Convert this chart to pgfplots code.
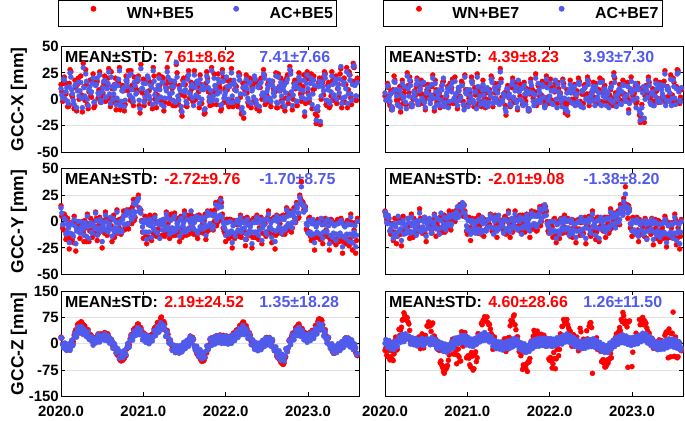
\documentclass[border=0pt]{standalone}
\usepackage{fontspec}
\setmainfont{Liberation Sans}
\usepackage{pgfplots}
\usepackage{pgfplotstable}
\pgfplotsset{compat=1.18}
\definecolor{wnred}{RGB}{255,0,0}
\definecolor{acblue}{RGB}{80,90,235}
\definecolor{gridgray}{RGB}{225,225,225}

\pgfplotstableread{
t x5r x5b x7r x7b y5r y5b y7r y7b z5r z5b z7r z7b
2020.00 14 10 3 6 15 13 10 9 19 16 -19 1
2020.02 -2 1 3 0 -6 -3 2 -1 -1 -2 -32 5
2020.04 21 18 11 13 7 3 2 6 -3 1 -19 -4
2020.06 5 7 -6 -2 -17 -12 -9 -9 -17 -12 -46 -2
2020.08 -7 -2 -10 -7 3 -2 -9 -3 -6 -3 -20 2
2020.10 15 12 9 7 -26 -20 -18 -16 -12 -15 -48 -7
2020.12 26 21 18 16 -1 -2 3 -2 0 -3 9 -1
2020.14 2 5 -1 3 -16 -12 -21 -14 -1 -6 -18 -5
2020.16 -9 -5 -4 -6 5 2 2 5 25 18 15 9
2020.18 11 14 12 9 -28 -21 -9 -9 40 25 24 13
2020.20 14 8 1 4 -5 -7 -23 -18 54 42 47 10
2020.22 0 3 -4 1 -5 0 5 1 48 33 70 21
2020.24 22 16 10 12 -4 -10 -9 -5 62 43 81 18
2020.26 -12 -8 -5 -9 0 -1 -9 -11 56 35 75 13
2020.28 12 11 13 10 -19 -13 3 3 53 41 62 17
2020.30 28 24 21 18 -6 -4 -16 -9 36 30 38 16
2020.32 -5 0 -7 -4 7 5 7 4 39 30 16 8
2020.34 7 9 0 2 -19 -16 -15 -10 23 13 2 9
2020.36 3 6 8 5 3 -1 -1 -2 26 17 14 2
2020.38 19 15 12 14 -15 -11 -11 -13 8 6 3 8
2020.40 -8 -3 -3 -5 -11 -4 -4 1 16 13 7 2
2020.42 16 13 5 8 9 8 12 8 8 5 17 7
2020.44 17 20 18 15 -18 -13 -9 -10 22 15 -3 6
2020.46 9 4 -4 -1 -3 -6 -9 -5 19 11 9 4
2020.48 -3 -1 -1 -3 -4 2 4 4 28 22 19 11
2020.50 11 7 3 6 -25 -19 -19 -14 25 17 16 2
2020.52 15 17 14 11 1 -1 2 0 20 11 49 9
2020.54 -2 2 3 0 9 6 0 3 30 22 57 11
2020.56 13 10 0 4 -13 -9 -8 -11 19 15 35 6
2020.58 29 26 23 20 1 -4 -6 -2 21 18 59 8
2020.60 -7 -4 -11 -8 1 4 7 6 6 1 22 0
2020.62 10 12 9 7 -19 -14 -14 -7 8 4 12 5
2020.64 1 5 -2 1 6 2 2 2 -10 -12 -16 -5
2020.66 20 14 6 9 -10 -6 -11 -12 -16 -8 -19 -3
2020.68 -2 1 2 -1 11 9 2 8 -30 -23 -49 -5
2020.70 16 19 16 14 -6 -10 -10 -5 -29 -22 -68 -13
2020.72 -10 -6 -3 -7 -7 0 6 4 -47 -38 -84 -10
2020.74 12 8 0 3 -9 -10 -5 -8 -37 -26 -64 -16
2020.76 8 11 12 10 10 6 -7 -4 -44 -33 -62 -11
2020.78 -5 -1 -4 -2 -7 -3 10 6 -34 -26 -32 -7
2020.80 18 16 9 12 11 10 -8 -4 -15 -11 -3 -9
2020.82 27 22 19 16 -7 -2 9 6 -11 -10 13 2
2020.84 -1 3 -2 1 11 8 2 5 14 9 -7 -1
2020.86 13 9 3 5 -2 2 5 3 26 24 -18 10
2020.88 -6 -2 -9 -6 21 17 11 14 39 20 -32 7
2020.90 11 13 11 8 4 9 9 6 38 32 -37 15
2020.92 9 6 -1 2 21 19 16 14 49 31 -49 12
2020.94 22 18 15 13 25 22 13 18 56 44 -4 17
2020.96 -13 -9 -6 -10 9 12 16 15 38 26 5 9
2020.98 7 10 9 6 1 0 5 4 38 27 22 11
2021.00 19 15 7 9 -16 -10 -12 -8 24 17 -37 5
2021.02 -1 2 1 -2 5 2 4 1 25 18 -41 8
2021.04 5 7 0 3 -21 -17 -18 -12 15 7 -66 1
2021.06 18 20 17 15 -1 -3 3 1 22 18 -35 7
2021.08 -4 0 -7 -4 6 2 -10 -6 9 7 -71 3
2021.10 15 11 4 7 -18 -15 -8 -11 26 19 -23 10
2021.12 30 27 24 21 -11 -6 -3 0 29 19 -40 6
2021.14 0 4 -3 0 6 4 6 2 46 35 21 14
2021.16 -8 -3 -2 -5 -14 -10 -9 -11 50 35 19 9
2021.18 10 13 11 9 -7 0 4 4 61 45 54 18
2021.20 13 9 7 4 -15 -16 -14 -9 60 42 68 15
2021.22 -1 -5 -8 -6 0 -3 1 -1 76 57 66 24
2021.24 20 16 9 11 -2 2 -1 -6 57 42 76 16
2021.26 -3 1 0 -3 -14 -8 -2 2 56 43 54 19
2021.28 11 8 6 3 9 7 7 6 35 23 42 9
2021.30 18 21 20 16 -2 -5 -9 -6 27 19 24 9
2021.32 1 5 -3 1 -16 -12 -9 -12 3 1 10 1
2021.34 15 12 6 8 7 2 6 4 -3 -1 -10 2
2021.36 -6 -1 -1 -3 -13 -10 -15 -9 -19 -17 -3 -7
2021.38 14 17 15 12 8 5 2 6 -14 -11 -12 -3
2021.40 33 35 29 26 -10 -6 -3 -5 -23 -18 -5 -9
2021.42 -1 3 2 -1 3 -1 1 0 -16 -12 4 -5
2021.44 13 10 3 5 -19 -14 -9 -11 -26 -20 -9 -11
2021.46 -11 -7 -6 -9 5 3 5 2 -13 -10 -15 -5
2021.48 18 14 8 10 -8 -4 -11 -8 -14 -17 4 -7
2021.50 3 7 5 2 10 7 10 8 -1 -5 8 1
2021.52 -6 -2 -7 -4 -13 -10 -15 -10 2 2 51 1
2021.54 22 19 11 14 6 2 -1 3 0 -2 62 -1
2021.56 1 6 0 2 -6 -7 -3 -4 14 13 78 6
2021.58 16 12 11 8 6 10 10 7 13 9 54 2
2021.60 -2 1 -1 -3 -10 -5 -6 -6 18 14 18 6
2021.62 27 23 16 18 1 -1 -4 1 -6 -9 -1 -5
2021.64 0 4 3 0 2 5 6 4 -21 -11 -17 -5
2021.66 12 15 13 10 -16 -11 -11 -12 -30 -27 -25 -11
2021.68 -8 -4 -3 -6 6 2 -2 3 -29 -23 -60 -8
2021.70 14 9 2 5 -6 -7 -10 -6 -46 -34 -64 -14
2021.72 10 13 10 8 -2 4 7 6 -44 -31 -57 -11
2021.74 -14 -10 -9 -11 1 -2 2 -2 -46 -39 -51 -17
2021.76 15 11 5 7 -17 -13 -15 -9 -23 -21 -42 -7
2021.78 20 17 11 13 10 9 10 8 -17 -8 8 -1
2021.80 -2 2 1 -2 -8 -4 -6 -3 -3 -7 21 -3
2021.82 5 8 7 4 10 7 9 6 16 9 32 6
2021.84 -5 -1 -6 -3 -6 -7 -9 -5 9 3 31 2
2021.86 24 20 13 15 0 5 6 5 19 15 21 6
2021.88 7 10 3 6 18 16 14 12 11 8 27 1
2021.90 9 5 4 1 -1 3 0 3 21 17 27 8
2021.92 14 16 15 12 19 15 15 12 14 10 21 3
2021.94 -11 -6 -6 -8 22 20 12 16 24 18 15 8
2021.96 28 25 22 19 7 4 10 6 13 7 -7 1
2021.98 -3 1 2 -1 -9 -5 -9 -4 20 14 11 6
2022.00 11 7 1 3 -19 -13 -10 -11 13 6 -47 1
2022.02 9 12 11 8 2 -1 -3 0 20 13 -49 8
2022.04 -7 -3 -2 -5 -16 -12 -15 -10 18 15 -57 5
2022.06 18 14 7 9 2 0 3 0 11 7 -42 2
2022.08 -1 3 -3 0 -25 -20 -20 -16 23 12 -43 3
2022.10 15 18 16 14 1 -3 0 -2 31 23 -14 10
2022.12 13 9 2 5 -12 -14 -16 -12 25 16 -16 6
2022.14 -4 0 1 -2 -3 1 3 2 39 28 25 14
2022.16 25 22 19 17 -14 -9 -11 -8 38 27 50 11
2022.18 2 5 -3 1 6 4 6 3 53 41 63 16
2022.20 -12 -8 -6 -9 -11 -7 -10 -6 57 35 66 20
2022.22 -18 -13 -15 -12 2 -1 3 1 61 46 54 18
2022.24 16 13 7 9 -23 -17 -13 -13 43 33 38 11
2022.26 6 10 9 6 4 2 -1 2 42 32 12 15
2022.28 -6 -2 -1 -4 -11 -12 -15 -11 27 16 16 5
2022.30 19 16 14 12 -10 -5 1 -3 24 17 3 7
2022.32 12 8 2 4 -25 -21 -20 -15 4 1 13 1
2022.34 -2 2 -5 -2 3 0 0 -1 0 1 -8 1
2022.36 16 19 17 14 -15 -10 -7 -9 -11 -11 1 -5
2022.38 -9 -5 -4 -7 6 4 -1 4 -4 -5 34 -1
2022.40 15 11 5 7 -17 -13 -12 -13 -13 -11 -13 -6
2022.42 11 15 13 10 3 -1 2 -1 -5 -4 11 0
2022.44 0 4 3 0 -21 -18 -21 -16 -9 -9 -8 -1
2022.46 28 24 21 18 0 -3 -3 1 5 4 14 3
2022.48 -5 -1 -6 -3 -2 2 5 3 2 -2 50 0
2022.50 4 7 6 3 -10 -12 -14 -11 18 11 60 6
2022.52 17 13 7 9 10 7 10 7 8 4 -84 0
2022.54 -3 1 2 -1 -10 -5 -4 -5 15 11 1 6
2022.56 14 17 15 12 -20 -15 -17 -13 6 3 9 0
2022.58 10 6 0 2 3 1 4 1 -9 -11 -16 -5
2022.60 7 10 9 6 -26 -19 -19 -16 -13 -10 1 -4
2022.62 -8 -3 -2 -5 6 5 0 4 -35 -27 -22 -12
2022.64 24 21 18 16 -11 -7 -5 -7 -32 -24 -48 -8
2022.66 8 12 11 8 -2 1 3 1 -45 -36 -55 -16
2022.68 -1 3 -2 1 -8 -11 -15 -10 -53 -32 -66 -12
2022.70 13 9 3 5 6 4 4 3 -59 -42 -46 -13
2022.72 -11 -7 -5 -8 -12 -8 -11 -7 -42 -36 -45 -15
2022.74 20 16 9 11 13 11 12 9 -18 -16 -27 -5
2022.76 -4 0 1 -2 -7 -2 -6 -3 -12 -11 1 -4
2022.78 31 28 25 22 10 8 8 7 13 11 -3 4
2022.80 4 7 6 3 -10 -6 -4 -6 21 10 18 7
2022.82 0 4 -3 0 9 6 2 6 31 23 6 10
2022.84 18 14 7 9 3 -1 2 -1 31 22 35 8
2022.86 -6 -2 -1 -4 18 16 16 13 47 35 37 16
2022.88 15 11 5 7 3 8 9 8 54 35 63 12
2022.90 15 18 16 13 25 23 22 19 49 39 80 16
2022.92 -2 2 1 -2 38 33 33 26 35 25 65 10
2022.94 12 8 2 4 18 15 16 14 37 27 48 13
2022.96 -16 -12 -10 -13 11 15 15 13 24 15 62 4
2022.98 19 15 8 10 -7 -2 -6 -2 27 20 15 9
2023.00 6 10 9 6 -9 -11 -14 -9 20 13 -65 4
2023.02 -3 1 2 -1 4 0 1 0 31 24 4 11
2023.04 24 20 13 15 -18 -13 -9 -11 25 19 15 7
2023.06 9 5 -2 1 -2 2 4 2 35 27 10 12
2023.08 10 13 11 9 -27 -20 -19 -14 38 24 19 9
2023.10 -23 -20 -22 -20 -3 -5 0 -3 53 39 54 16
2023.12 -11 -7 -5 -8 2 -1 -3 0 63 39 67 15
2023.14 20 17 10 12 -16 -12 -10 -12 71 55 54 23
2023.16 0 3 3 0 0 3 3 1 69 44 62 16
2023.18 16 12 6 8 -21 -16 -16 -17 54 44 45 19
2023.20 26 23 21 18 1 -3 -6 -2 35 27 25 10
2023.22 -5 -1 0 -3 -8 -10 -6 -9 23 13 1 5
2023.24 13 9 3 5 -2 2 3 2 19 13 16 6
2023.26 -8 -4 -3 -6 -27 -21 -22 -17 -1 -3 -13 -1
2023.28 3 7 6 3 2 0 2 0 -10 -2 -8 0
2023.30 18 14 8 10 -19 -15 -16 -13 -23 -19 -4 -8
2023.32 0 4 -3 0 -1 -4 1 -2 -27 -12 -14 -4
2023.34 22 19 16 14 -22 -18 -19 -15 -23 -19 -5 -8
2023.36 10 14 12 9 2 -2 -1 -2 -12 -9 9 -1
2023.38 2 6 0 2 -19 -14 -16 -12 -17 -17 -5 -7
2023.40 29 31 27 24 3 1 5 2 -3 -5 24 0
2023.42 -3 1 2 -1 -30 -24 -24 -20 2 2 34 3
2023.44 20 16 9 11 -3 -4 -2 -4 1 -2 -40 -1
2023.46 14 10 4 6 -21 -16 -12 -13 17 13 31 7
2023.48 -8 -4 -3 -6 1 -2 -6 -2 6 4 29 1
2023.50 26 23 20 18 -23 -19 -14 -16 10 9 90 5
2023.52 1 5 -2 1 7 4 7 4 -1 -4 -36 -2
2023.54 17 14 12 10 -27 -20 -22 -18 3 1 -4 3
2023.56 30 32 27 25 -8 -10 -6 -9 -15 -13 -37 -6
2023.58 -1 3 -4 -1 -30 -24 -26 -21 -25 -12 2 -3
2023.60 20 16 9 11 3 0 2 0 -34 -28 -20 -12
}\dataA

\pgfplotstableread{
t x5r x5b x7r x7b y5r y5b y7r y7b z5r z5b z7r z7b
2020.01 7 4 3 -1 5 8 7 5 16 17 -12 12
2020.03 15 19 15 12 -8 -3 -1 -2 -6 -12 -37 -10
2020.05 5 0 -3 2 5 2 -1 3 -2 2 -16 9
2020.07 15 11 7 5 -14 -10 -12 -7 -15 -19 -37 -15
2020.09 -7 -4 -8 -10 -2 -6 -2 -4 -3 -1 -45 3
2020.11 28 25 22 17 -16 -11 -10 -12 -14 -19 -29 -16
2020.13 4 9 7 9 -2 -3 -11 -5 6 10 19 8
2020.15 -5 -1 -1 -5 -20 -14 -14 -10 6 -2 -16 -8
2020.17 18 13 5 8 -2 -4 2 -1 34 30 41 19
2020.19 -11 -8 -12 -8 -6 -9 -12 -7 36 19 39 4
2020.21 20 16 18 15 -4 0 2 -2 57 48 67 27
2020.23 2 8 6 2 -16 -11 -11 -12 49 30 88 6
2020.25 4 1 -5 -3 -1 -5 -7 -3 62 49 68 28
2020.27 34 30 25 22 -10 -7 -5 -8 47 26 74 19
2020.29 -1 3 6 3 1 -1 -4 -1 50 38 56 22
2020.31 14 17 17 13 -19 -14 -15 -11 32 20 7 -1
2020.33 -9 -6 -5 -7 -2 -5 -2 -4 40 34 13 17
2020.35 18 12 3 7 -9 -3 3 0 19 11 7 -3
2020.37 2 7 4 0 -8 -10 -12 -7 23 20 10 15
2020.39 24 20 20 18 0 -3 -1 -3 5 -4 -1 -6
2020.41 -6 -2 -5 -2 -11 -6 -7 -8 17 15 19 12
2020.43 16 14 14 10 3 1 3 1 9 3 -14 -3
2020.45 1 6 5 1 -12 -8 -11 -6 28 26 28 16
2020.47 26 23 14 16 4 0 3 0 18 5 -12 -6
2020.49 2 -3 -10 -8 -8 -9 -12 -8 27 21 24 10
2020.51 6 11 9 6 -9 -4 1 -2 18 12 51 14
2020.53 22 18 8 11 -11 -7 -5 -6 32 28 62 12
2020.55 -1 2 0 -4 3 0 -3 1 22 9 51 -3
2020.57 20 15 12 14 -8 -10 -11 -7 28 23 55 18
2020.59 1 5 4 1 -6 -2 2 -1 8 2 21 -2
2020.61 26 21 18 15 -4 -7 -3 -5 13 13 4 12
2020.63 -3 0 -3 -5 4 3 -2 3 -7 -13 -11 -14
2020.65 14 10 2 5 -15 -10 -5 -7 -4 0 -8 6
2020.67 -10 -5 -8 -6 1 -1 4 1 -27 -26 -54 -14
2020.69 16 13 13 9 -11 -7 -10 -6 -33 -14 -61 2
2020.71 30 27 17 20 2 -2 0 -2 -44 -41 -80 -22
2020.73 -6 -2 -1 -3 -12 -8 -10 -6 -49 -23 -75 -1
2020.75 13 8 3 6 4 2 4 3 -47 -40 -69 -24
2020.77 -11 -7 -6 -8 -8 -3 1 -2 -41 -19 -47 -3
2020.79 22 18 15 12 8 6 -1 4 -34 -31 -14 -18
2020.81 8 12 11 7 -6 -2 0 -2 -5 1 -5 6
2020.83 9 4 -4 -1 11 8 9 7 -3 -9 -29 -12
2020.85 27 24 21 17 -1 4 0 4 25 22 -30 16
2020.87 -3 1 1 -2 14 10 11 9 23 10 -57 -1
2020.89 21 16 8 11 1 5 7 4 43 36 -15 18
2020.91 9 5 3 0 19 16 16 14 37 24 -49 1
2020.93 17 20 17 13 22 20 16 13 56 46 34 24
2020.95 -6 -1 -2 -5 13 10 5 9 43 26 -7 4
2020.97 33 29 23 21 11 8 10 8 46 39 32 24
2020.99 6 10 9 5 -10 -5 -9 -4 26 11 -40 -3
2021.01 -6 -3 -5 -7 1 -1 3 1 30 27 -34 18
2021.03 19 15 6 9 -14 -10 -6 -8 13 4 -60 -6
2021.05 18 22 21 17 2 -1 -6 -1 24 23 -25 13
2021.07 8 3 -3 -1 -15 -10 -9 -10 8 0 -75 -8
2021.09 16 13 11 7 -2 -4 0 -2 24 20 -30 15
2021.11 -9 -5 -6 -9 3 0 3 0 19 8 -51 -2
2021.13 22 17 9 12 -13 -8 -11 -7 42 37 29 22
2021.15 5 9 6 3 0 -2 -4 1 40 23 15 5
2021.17 4 0 -7 -4 -10 -11 -12 -8 60 48 58 27
2021.19 23 20 18 14 0 -3 1 -2 54 33 66 9
2021.21 -1 2 1 -2 -3 1 2 0 73 60 77 32
2021.23 21 16 6 9 -13 -8 -7 -9 62 41 63 10
2021.25 -11 -7 -3 -7 2 -1 -4 1 63 52 60 25
2021.27 14 11 9 7 -10 -6 -3 -5 38 21 55 5
2021.29 30 26 22 19 5 3 6 3 38 33 29 20
2021.31 -4 1 -7 -4 -12 -8 -10 -6 10 2 -16 -7
2021.33 15 18 15 11 4 1 2 0 7 11 19 10
2021.35 10 6 -1 1 -11 -6 -3 -6 -15 -19 -11 -14
2021.37 17 12 9 6 5 3 -1 2 -10 -4 -4 6
2021.39 -6 -3 -2 -5 -13 -9 -5 -7 -25 -25 -10 -15
2021.41 25 21 19 16 1 -2 -6 -1 -14 -6 0 5
2021.43 -5 -1 1 -3 -10 -6 -2 -4 -26 -26 -14 -18
2021.45 4 8 6 3 4 2 4 2 -12 -5 14 4
2021.47 -16 -12 -15 -12 -15 -10 -12 -7 -20 -23 -22 -14
2021.49 20 16 13 10 2 -1 2 0 -1 4 16 8
2021.51 14 9 1 5 -11 -7 -2 -5 -10 -14 18 -14
2021.53 -7 -4 -4 -6 4 2 -3 1 8 10 66 10
2021.55 27 23 20 17 -12 -7 -10 -6 1 -7 64 -9
2021.57 7 4 -3 0 2 -1 2 0 22 21 82 15
2021.59 10 14 16 12 5 3 5 2 10 2 40 -4
2021.61 -2 -6 -10 -8 -12 -7 -6 -8 12 13 20 12
2021.63 15 11 10 7 3 1 -4 0 -14 -18 -22 -15
2021.65 13 17 14 10 -13 -9 -10 -6 -28 -7 -34 3
2021.67 7 2 -5 -2 6 4 6 3 -36 -35 -73 -20
2021.69 23 19 16 13 -10 -5 -2 -4 -42 -17 -66 0
2021.71 -4 0 -2 -5 3 1 -3 1 -50 -43 -70 -25
2021.73 13 9 9 5 -11 -7 -3 -6 -49 -25 -79 -5
2021.75 -13 -9 -11 -9 7 4 5 3 -40 -38 -52 -22
2021.77 26 22 19 16 -10 -5 -8 -4 -26 -6 1 5
2021.79 7 11 9 6 8 6 7 5 -11 -16 -7 -14
2021.81 -6 -2 -2 -6 -6 -2 -7 -2 12 14 38 11
2021.83 30 27 24 20 9 6 7 5 4 -5 21 -8
2021.85 7 3 -4 -1 -8 -4 -8 -3 18 18 36 14
2021.87 9 13 12 9 11 7 9 7 8 -1 17 -7
2021.89 -5 -1 1 -3 -4 1 -4 0 23 23 23 16
2021.91 24 19 17 14 16 13 13 11 13 3 13 -5
2021.93 11 7 -1 2 1 6 8 5 25 24 24 16
2021.95 -9 -5 -4 -6 18 14 14 12 12 1 0 -7
2021.97 21 17 15 11 -6 -1 0 -2 24 21 8 15
2021.99 9 4 -4 -1 -11 -7 -11 -6 10 1 -43 -6
2022.01 18 21 19 15 2 -1 -4 0 22 22 -39 15
2022.03 -4 0 -1 -4 -14 -10 -5 -8 8 -1 -69 -8
2022.05 16 12 11 8 2 0 2 0 21 19 -25 13
2022.07 29 25 15 18 -14 -9 -13 -9 12 1 -71 -5
2022.09 -7 -3 -4 -8 -1 -4 -1 -3 29 26 -16 17
2022.11 9 14 10 7 -16 -11 -13 -9 21 9 -34 -1
2022.13 12 8 6 3 1 -1 2 -1 39 35 28 19
2022.15 -7 -2 -5 -7 -13 -8 -10 -6 32 18 49 -1
2022.17 23 18 15 12 -1 -3 -5 -1 51 43 69 24
2022.19 -14 -9 -13 -10 -15 -10 -6 -8 44 26 60 5
2022.21 15 11 9 6 3 0 2 0 62 52 69 28
2022.23 9 5 -3 0 -10 -6 -11 -6 45 26 45 5
2022.25 23 19 18 14 -17 -12 -14 -10 51 42 36 23
2022.27 -3 1 0 -3 -1 -3 2 -1 29 15 -7 -1
2022.29 20 15 6 9 -13 -9 -6 -8 31 29 26 18
2022.31 -8 -4 -2 -6 1 -2 -7 -2 6 -3 -3 -8
2022.33 14 10 8 5 -15 -10 -7 -9 9 11 19 12
2022.35 18 22 20 16 1 -1 2 0 -11 -16 -20 -12
2022.37 -5 -1 -2 -5 -15 -11 -13 -8 -1 3 44 7
2022.39 17 12 5 8 2 -1 2 0 -14 -20 -13 -14
2022.41 -11 -7 -4 -8 -6 -8 -11 -7 -3 2 13 7
2022.43 20 16 14 11 4 2 4 1 -13 -17 -9 -13
2022.45 2 6 5 1 -11 -6 -4 -6 6 10 37 11
2022.47 23 20 18 14 0 -3 -5 -1 -1 -8 -5 -9
2022.49 -3 2 1 -2 -14 -10 -12 -8 17 17 59 12
2022.51 14 10 2 5 4 2 4 2 6 -3 46 -8
2022.53 14 18 16 12 -11 -6 -9 -4 18 17 11 14
2022.55 -7 -2 -3 -6 2 -1 2 -1 2 -7 -4 -10
2022.57 17 13 10 8 -12 -8 -10 -6 8 12 17 10
2022.59 8 3 -4 -1 4 2 4 1 -16 -20 -11 -14
2022.61 25 22 20 16 -13 -9 -5 -7 -17 -9 -5 4
2022.63 -8 -4 -3 -6 3 0 -4 0 -39 -38 -51 -21
2022.65 12 8 6 3 -10 -5 -9 -4 -44 -20 -45 -2
2022.67 20 16 13 10 5 3 4 2 -53 -47 -66 -25
2022.69 -7 -3 -2 -6 -12 -7 -4 -6 -57 -30 -62 -6
2022.71 17 13 4 7 5 2 -2 2 -55 -49 -55 -25
2022.73 1 6 4 0 -9 -5 -8 -4 -37 -14 -42 2
2022.75 23 19 15 12 8 5 7 4 -21 -23 -40 -15
2022.77 5 1 -6 -3 -8 -4 0 -2 8 10 4 10
2022.79 27 24 20 16 8 6 0 4 6 -3 -4 -8
2022.81 -10 -6 -4 -7 -6 -1 2 -1 29 26 28 18
2022.83 15 11 2 5 13 10 10 8 23 11 6 -2
2022.85 10 15 14 10 -1 3 -3 2 45 39 46 22
2022.87 -6 -2 -2 -5 16 13 13 10 40 23 69 3
2022.89 25 21 18 14 4 8 8 6 56 47 89 25
2022.91 5 9 5 2 22 19 17 15 36 21 57 2
2022.93 6 2 1 -2 19 16 14 12 43 37 62 22
2022.95 23 18 16 12 11 9 3 8 25 11 -67 -2
2022.97 -4 0 -1 -4 14 11 12 10 31 27 65 17
2022.99 26 23 21 17 -9 -4 -7 -3 16 4 2 -5
2023.01 -1 4 3 0 3 1 4 1 30 28 -24 18
2023.03 19 15 6 9 -14 -10 -12 -8 22 9 7 -2
2023.05 -9 -5 -4 -8 1 -2 1 -1 38 33 30 21
2023.07 22 18 15 12 -16 -12 -8 -10 30 15 7 0
2023.09 -14 -9 -15 -11 0 -2 2 -1 52 44 69 24
2023.11 -16 -10 -18 -14 -15 -10 -12 -8 48 28 57 6
2023.13 16 12 9 6 1 -1 -5 -1 70 57 75 30
2023.15 -24 -21 -22 -18 -17 -12 -14 -10 61 39 66 9
2023.17 20 16 13 10 0 -3 0 -3 66 55 58 28
2023.19 4 8 6 2 -14 -10 -7 -9 39 22 36 2
2023.21 24 20 16 13 3 0 -4 0 40 34 30 21
2023.23 -6 -1 -2 -5 -14 -9 -12 -7 14 2 0 -5
2023.25 16 12 10 7 -2 -4 1 -2 17 18 9 14
2023.27 -6 -2 -2 -6 -17 -13 -8 -10 -7 -13 -6 -11
2023.29 26 22 18 15 1 -2 -6 -2 -18 0 1 6
2023.31 -1 3 1 -2 -16 -11 -13 -9 -27 -27 -15 -17
2023.33 21 17 15 11 -1 -3 0 -3 -26 -7 11 5
2023.35 -4 0 0 -3 -17 -12 -8 -10 -23 -25 -12 -16
2023.37 14 10 2 5 1 -2 -6 -2 -7 0 -1 6
2023.39 24 19 17 13 -16 -11 -14 -10 -16 -19 -12 -15
2023.41 -8 -4 -3 -6 1 -1 2 -1 1 6 30 9
2023.43 18 14 12 9 -19 -14 -16 -12 -5 -11 11 -11
2023.45 -3 2 2 -2 -2 -5 -1 -3 14 16 42 14
2023.47 30 26 23 19 -16 -12 -15 -10 5 -3 -37 -7
2023.49 9 5 4 1 0 -3 -1 -3 16 16 30 13
2023.51 23 18 16 12 -17 -12 -15 -11 0 -9 -36 -10
2023.53 -5 -1 -2 -5 -1 -3 2 -1 8 11 19 12
2023.55 34 31 28 24 -20 -14 -16 -11 -13 -17 -40 -13
2023.57 17 13 10 7 -1 -4 -1 -3 -9 -1 1 6
2023.59 -1 3 2 -2 -18 -13 -14 -10 -31 -31 -17 -18
}\dataB

\pgfplotsset{
  panel/.style={
    scale only axis, width=298bp, height=105.5bp,
    xmin=2020, xmax=2023.62,
    xtick={2020,2021,2022,2023}, xticklabels={},
    tick align=inside, major tick length=4bp,
    ymajorgrids, grid style={gridgray, line width=0.8bp},
    axis line style={black, line width=0.9bp},
    tick style={black, line width=0.9bp},
    tick label style={font=\fontsize{15}{18}\selectfont\bfseries},
    yticklabel style={inner xsep=2bp},
    xticklabel style={yshift=-6bp},
    every axis y label/.style={at={(axis description cs:-0.141,0.5)}, rotate=90, anchor=center, font=\fontsize{17.5}{21}\selectfont\bfseries},
    legend image code/.code={\path (0bp,0bp) (64bp,12bp);
      \draw[mark repeat=2,mark phase=2,##1] plot coordinates {(0bp,5bp) (32bp,5bp) (64bp,5bp)};},
  },
  small/.style={ymin=-50, ymax=50, ytick={-50,-25,0,25,50}},
  big/.style={ymin=-150, ymax=150, ytick={-150,-75,0,75,150}},
  wn/.style={only marks, mark=*, mark size=2.5bp, color=wnred},
  ac/.style={only marks, mark=*, mark size=2.5bp, color=acblue},
  leg/.style={legend columns=2,
    legend style={at={(#1,1.437)}, anchor=north, draw=black, line width=0.8bp,
      inner xsep=3bp, inner ysep=0bp, font=\fontsize{16}{19}\selectfont\bfseries,
      /tikz/every even column/.append style={column sep=9bp},
      nodes={inner xsep=1bp, inner ysep=6bp, text height=12bp, text depth=2bp}}},
}
\tikzset{mtxt/.style={anchor=west, inner sep=0pt, font=\fontsize{16}{19}\selectfont\bfseries}}

\begin{document}
\begin{tikzpicture}
\path[use as bounding box] (0,0) rectangle (685bp,421bp);

% ---- row 1 left: GCC-X BE5
\begin{axis}[panel, small, at={(61bp,269bp)}, anchor=south west,
  ylabel={GCC-X [mm]}, yticklabels={-50,-25,0,25,50}, leg=0.458]
\node[mtxt] at (axis description cs:0.013,0.9) {MEAN±STD:};
\node[mtxt, text=wnred] at (axis description cs:0.346,0.9) {7.61±8.62};
\node[mtxt, text=acblue] at (axis description cs:0.665,0.9) {7.41±7.66};
\addplot[wn] table[x=t, y=x5r] {\dataA};
\addplot[wn, forget plot] table[x=t, y=x5r] {\dataB};
\addplot[ac] table[x=t, y=x5b] {\dataA};
\addplot[ac, forget plot] table[x=t, y=x5b] {\dataB};
\legend{WN+BE5, AC+BE5}
\end{axis}

% ---- row 1 right: GCC-X BE7
\begin{axis}[panel, small, at={(385bp,269bp)}, anchor=south west,
  yticklabels={}, leg=0.463]
\node[mtxt] at (axis description cs:0.013,0.9) {MEAN±STD:};
\node[mtxt, text=wnred] at (axis description cs:0.346,0.9) {4.39±8.23};
\node[mtxt, text=acblue] at (axis description cs:0.665,0.9) {3.93±7.30};
\addplot[wn] table[x=t, y=x7r] {\dataA};
\addplot[wn, forget plot] table[x=t, y=x7r] {\dataB};
\addplot[ac] table[x=t, y=x7b] {\dataA};
\addplot[ac, forget plot] table[x=t, y=x7b] {\dataB};
\legend{WN+BE7, AC+BE7}
\end{axis}

% ---- row 2 left: GCC-Y BE5
\begin{axis}[panel, small, at={(61bp,146.7bp)}, anchor=south west,
  ylabel={GCC-Y [mm]}, yticklabels={-50,-25,0,25,50}]
\node[mtxt] at (axis description cs:0.013,0.9) {MEAN±STD:};
\node[mtxt, text=wnred] at (axis description cs:0.346,0.9) {-2.72±9.76};
\node[mtxt, text=acblue] at (axis description cs:0.665,0.9) {-1.70±8.75};
\addplot[wn] table[x=t, y=y5r] {\dataA};
\addplot[wn] table[x=t, y=y5r] {\dataB};
\addplot[ac] table[x=t, y=y5b] {\dataA};
\addplot[ac] table[x=t, y=y5b] {\dataB};
\end{axis}

% ---- row 2 right: GCC-Y BE7
\begin{axis}[panel, small, at={(385bp,146.7bp)}, anchor=south west,
  yticklabels={}]
\node[mtxt] at (axis description cs:0.013,0.9) {MEAN±STD:};
\node[mtxt, text=wnred] at (axis description cs:0.346,0.9) {-2.01±9.08};
\node[mtxt, text=acblue] at (axis description cs:0.665,0.9) {-1.38±8.20};
\addplot[wn] table[x=t, y=y7r] {\dataA};
\addplot[wn] table[x=t, y=y7r] {\dataB};
\addplot[ac] table[x=t, y=y7b] {\dataA};
\addplot[ac] table[x=t, y=y7b] {\dataB};
\end{axis}

% ---- row 3 left: GCC-Z BE5
\begin{axis}[panel, big, at={(61bp,24.5bp)}, anchor=south west,
  ylabel={GCC-Z [mm]}, yticklabels={-150,-75,0,75,150},
  xticklabels={2020.0,2021.0,2022.0,2023.0}]
\node[mtxt] at (axis description cs:0.013,0.9) {MEAN±STD:};
\node[mtxt, text=wnred] at (axis description cs:0.346,0.9) {2.19±24.52};
\node[mtxt, text=acblue] at (axis description cs:0.665,0.9) {1.35±18.28};
\addplot[wn] table[x=t, y=z5r] {\dataA};
\addplot[wn] table[x=t, y=z5r] {\dataB};
\addplot[ac] table[x=t, y=z5b] {\dataA};
\addplot[ac] table[x=t, y=z5b] {\dataB};
\end{axis}

% ---- row 3 right: GCC-Z BE7
\begin{axis}[panel, big, at={(385bp,24.5bp)}, anchor=south west,
  yticklabels={}, xticklabels={2020.0,2021.0,2022.0,2023.0}]
\node[mtxt] at (axis description cs:0.013,0.9) {MEAN±STD:};
\node[mtxt, text=wnred] at (axis description cs:0.346,0.9) {4.60±28.66};
\node[mtxt, text=acblue] at (axis description cs:0.665,0.9) {1.26±11.50};
\addplot[wn] table[x=t, y=z7r] {\dataA};
\addplot[wn] table[x=t, y=z7r] {\dataB};
\addplot[ac] table[x=t, y=z7b] {\dataA};
\addplot[ac] table[x=t, y=z7b] {\dataB};
\end{axis}
\end{tikzpicture}
\end{document}
